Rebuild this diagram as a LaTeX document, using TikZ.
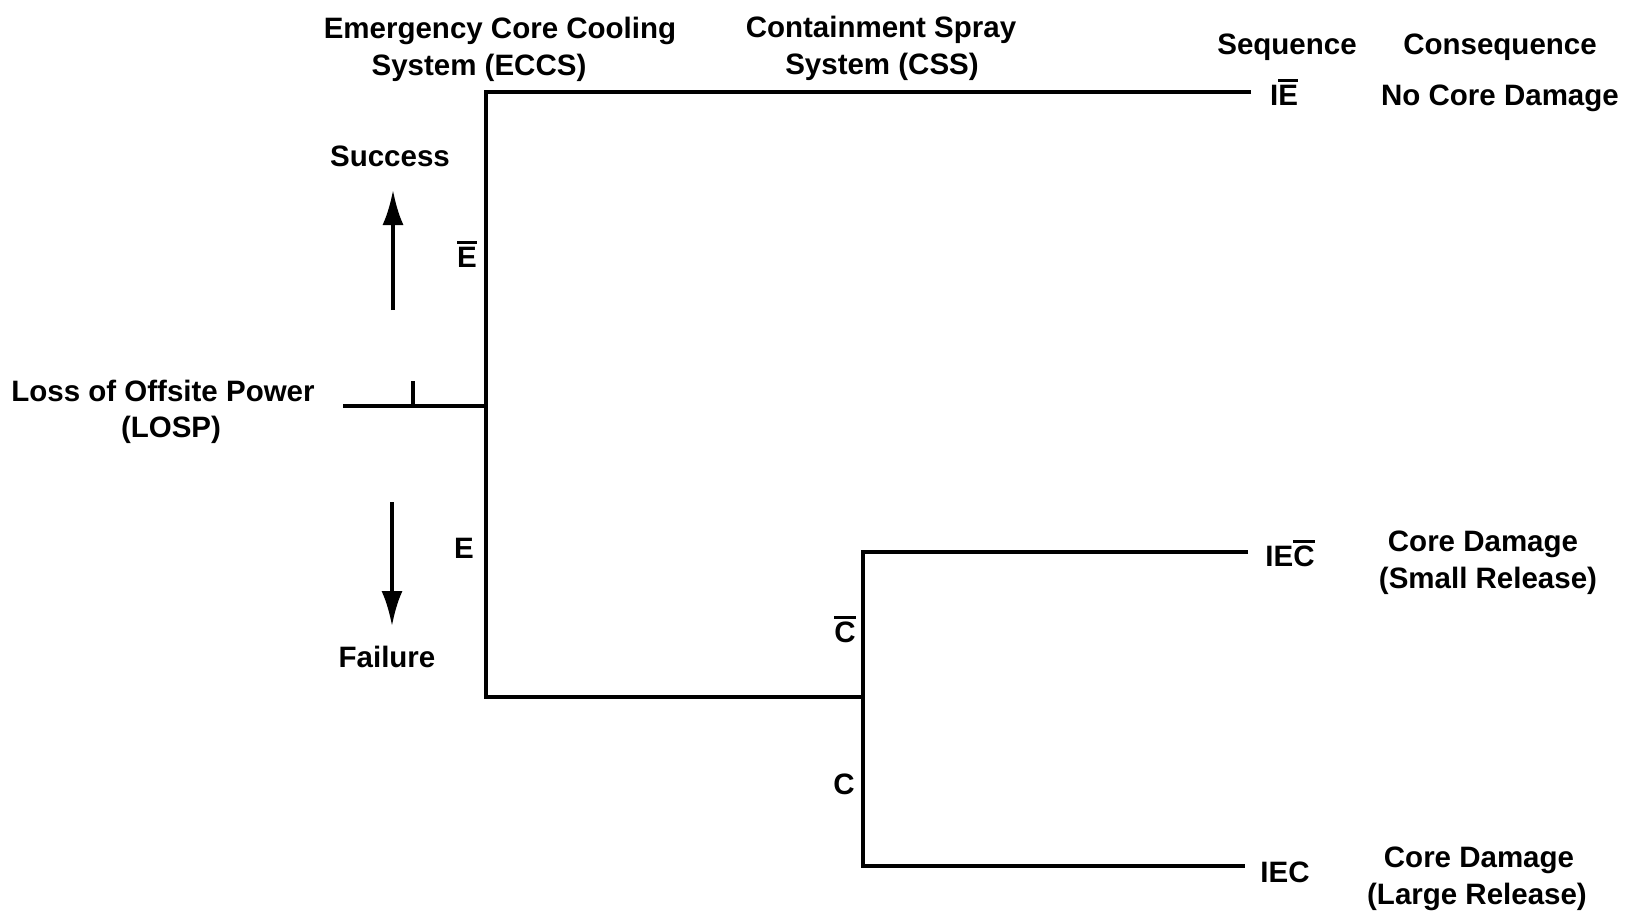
\documentclass[tikz,border=0pt]{standalone}
\usepackage{fontspec}
\setmainfont{Liberation Sans}
\usetikzlibrary{arrows.meta}
\newcommand\myob[1]{\vbox{\hrule height 2.8pt\kern 2.6pt\hbox{#1}}}
\begin{document}
\begin{tikzpicture}[x=1pt,y=-1pt,
  lbl/.style={font=\fontsize{29.5}{35}\selectfont\bfseries, inner sep=0pt, anchor=base},
  branch/.style={line width=3.8pt, line join=miter},
  bigarrow/.style={line width=3.8pt, -{Latex[length=35pt,width=21pt]}}]
\useasboundingbox (0,0) rectangle (1627,913);
% tree coordinates
\coordinate (start) at (343,406);
\coordinate (e) at (486,406);
\coordinate (etop) at (486,92);
\coordinate (ebot) at (486,697);
\coordinate (s1) at (1251,92);
\coordinate (c) at (863,697);
\coordinate (ctop) at (863,552);
\coordinate (cbot) at (863,866);
\coordinate (s2) at (1248,552);
\coordinate (s3) at (1245,866);
\coordinate (tickb) at (413,406);
\coordinate (tickt) at (413,381);
% branches
\draw[branch] (start) -- (e);
\draw[branch] (s1) -- (etop) -- (ebot) -- (c);
\draw[branch] (s2) -- (ctop) -- (cbot) -- (s3);
\draw[line width=3.4pt] (tickb) -- (tickt);
% arrows
\coordinate (upA) at (393,310);
\coordinate (upB) at (393,190);
\coordinate (dnA) at (392,502);
\coordinate (dnB) at (392,626);
\draw[bigarrow] (upA) -- (upB);
\draw[bigarrow] (dnA) -- (dnB);
% headings
\node[lbl] (h1a) at (500,38) {Emergency Core Cooling};
\node[lbl] (h1b) at (479,75) {System (ECCS)};
\node[lbl] (h2a) at (881,37) {Containment Spray};
\node[lbl] (h2b) at (882,74) {System (CSS)};
\node[lbl] (h3) at (1287,54) {Sequence};
\node[lbl] (h4) at (1500,54) {Consequence};
% left labels
\node[lbl] (losp1) at (163,401) {Loss of Offsite Power};
\node[lbl] (losp2) at (171,437) {(LOSP)};
\node[lbl] (succ) at (390,166) {Success};
\node[lbl] (fail) at (387,667) {Failure};
\node[lbl] (ebar) at (467,267) {\myob{E}};
\node[lbl] (elab) at (464,558) {E};
\node[lbl] (cbar) at (845,642) {\myob{C}};
\node[lbl] (clab) at (844,794) {C};
% sequences
\node[lbl] (seq1) at (1284,105) {I\myob{E}};
\node[lbl] (seq2) at (1290,566) {IE\myob{C}};
\node[lbl] (seq3) at (1285,882) {IEC};
% consequences
\node[lbl] (con1) at (1500,105) {No Core Damage};
\node[lbl] (con2a) at (1483,551) {Core Damage};
\node[lbl] (con2b) at (1488,588) {(Small Release)};
\node[lbl] (con3a) at (1479,867) {Core Damage};
\node[lbl] (con3b) at (1477,904) {(Large Release)};
\end{tikzpicture}
\end{document}
